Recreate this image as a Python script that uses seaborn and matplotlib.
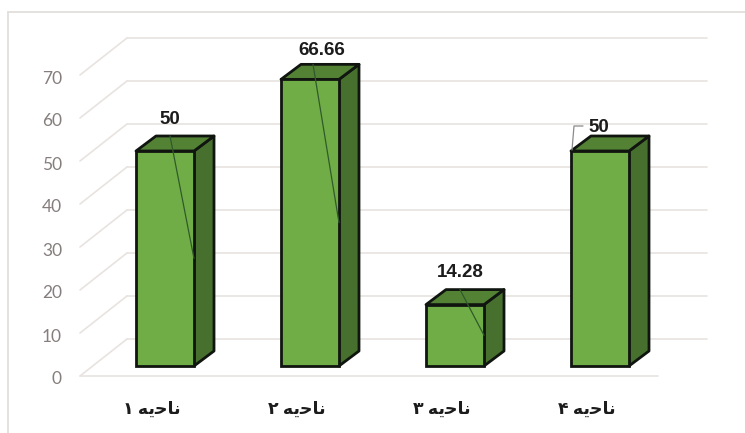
import matplotlib
matplotlib.use("Agg")
import matplotlib.pyplot as plt
from matplotlib.lines import Line2D
from matplotlib.patches import Polygon
from matplotlib.transforms import ScaledTranslation
import pandas as pd
import seaborn as sns

# values
regions = ["ناحیه ۱", "ناحیه ۲", "ناحیه ۳", "ناحیه ۴"]
values = [50, 66.66, 14.28, 50]
value_labels = ["50", "66.66", "14.28", "50"]
y_ticks = [0, 10, 20, 30, 40, 50, 60, 70]

W, H = 745, 433
DPI = 100


def shape_fa(text):
    # matplotlib does no joining or bidi, so use presentation forms in visual order
    forms = {"ن": "\ufee7", "ا": "\ufe8e", "ح": "\ufea3", "ی": "\ufbfe", "ه": "\ufeea"}
    return "".join(forms.get(c, c) for c in reversed(text))


sns.set_theme(style="white")
plt.rcParams["font.family"] = ["Lato", "DejaVu Sans"]

fig = plt.figure(figsize=(W / DPI, H / DPI), dpi=DPI)
# axes box = front edge of the floor, from x 80 to 658 and y 376 up to 65
ax = fig.add_axes([80 / W, 1 - 376 / H, 578 / W, 311 / H])

df = pd.DataFrame({"region": regions, "value": values})
sns.barplot(data=df, x="region", y="value", color="#70AD47", saturation=1, width=0.4,
            edgecolor="#101510", linewidth=2, ax=ax, zorder=4)

ax.set_xlim((80 - 165) / 145, (658 - 165) / 145)
ax.set_ylim(-10 / 4.3, 70)
ax.set_xlabel("")
ax.set_ylabel("")
sns.despine(ax=ax, left=True, bottom=True)

# size of the fake depth, in data units
px_x = 1 / 145
px_y = 1 / 4.3
bar_dx, bar_dy = 20 * px_x, 15 * px_y
wall_dx, wall_dy = 47 * px_x, 37 * px_y
floor_y = -10 * px_y
left_x, right_x = ax.get_xlim()

grid = "#e8e3e0"
for v in y_ticks:
    y = v + floor_y
    ax.plot([left_x, left_x + wall_dx], [y, y + wall_dy], color=grid, lw=1.2, clip_on=False, zorder=1)
    ax.plot([left_x + wall_dx, right_x + wall_dx + 2 * px_x], [y + wall_dy, y + wall_dy],
            color=grid, lw=1.2, clip_on=False, zorder=1)
ax.plot([left_x, right_x], [floor_y, floor_y], color=grid, lw=1.2, clip_on=False, zorder=1)

# side and top faces follow each seaborn bar
for bar in ax.patches[:len(values)]:
    x0, x1, h = bar.get_x(), bar.get_x() + bar.get_width(), bar.get_height()
    ax.add_patch(Polygon([(x1, 0), (x1 + bar_dx, bar_dy), (x1 + bar_dx, h + bar_dy), (x1, h)],
                         facecolor="#47702F", edgecolor="#101510", lw=2, joinstyle="round",
                         clip_on=False, zorder=3))
    ax.add_patch(Polygon([(x0, h), (x0 + bar_dx, h + bar_dy), (x1 + bar_dx, h + bar_dy), (x1, h)],
                         facecolor="#548235", edgecolor="#101510", lw=2, joinstyle="round",
                         clip_on=False, zorder=3))

# data labels with their leader lines
label_dx = [5, 12, 5, -1]
label_dy = [31, 29, 32, 24]
for i, bar in enumerate(ax.patches[:len(values)]):
    cx = bar.get_x() + bar.get_width() / 2
    h = bar.get_height()
    x1 = bar.get_x() + bar.get_width()
    ax.annotate(value_labels[i], xy=(cx, h), xytext=(label_dx[i] * 0.72, label_dy[i] * 0.72),
                textcoords="offset points", ha="center", va="center", fontsize=13.5,
                family="Liberation Sans", fontweight="bold", color="#1c1c1c", zorder=7,
                annotation_clip=False)
    if i < 3:
        ax.annotate("", xy=(x1, h / 2), xytext=(cx + 5 * px_x - (2 if i == 1 else 0) * px_x, h + 15 * px_y),
                    arrowprops=dict(arrowstyle="-", color="#2f5a2a", lw=0.9, shrinkA=0, shrinkB=0),
                    zorder=6)
    else:
        x0 = bar.get_x()
        ax.plot([x0 + 1 * px_x, x0 + 3 * px_x, x0 + 12 * px_x], [h + 1 * px_y, h + 25 * px_y, h + 25 * px_y],
                color="#8a8a8a", lw=0.9, clip_on=False, zorder=6)

# ticks and labels, pushed onto the front wall
ax.set_yticks(y_ticks)
ax.tick_params(axis="y", length=0, pad=13, labelsize=12.5, labelcolor="#857e7c")
ax.set_xticks(range(len(regions)))
ax.set_xticklabels([shape_fa(r) for r in regions])
ax.tick_params(axis="x", length=0, pad=18, labelsize=12.5, labelcolor="#1c1c1c")
for lab in ax.get_xticklabels():
    lab.set_fontweight("bold")
    lab.set_transform(lab.get_transform() + ScaledTranslation(-13 / DPI, 0, fig.dpi_scale_trans))
for lab in ax.get_yticklabels():
    lab.set_transform(lab.get_transform() + ScaledTranslation(0, -12 / DPI, fig.dpi_scale_trans))

# outer chart frame
frame = "#e2dedb"
fig.add_artist(Line2D([8 / W, 8 / W], [0, 1 - 12 / H], color=frame, lw=1.3))
fig.add_artist(Line2D([8 / W, 1], [1 - 12 / H, 1 - 12 / H], color=frame, lw=1.3))

fig.savefig("out.png", dpi=DPI)
